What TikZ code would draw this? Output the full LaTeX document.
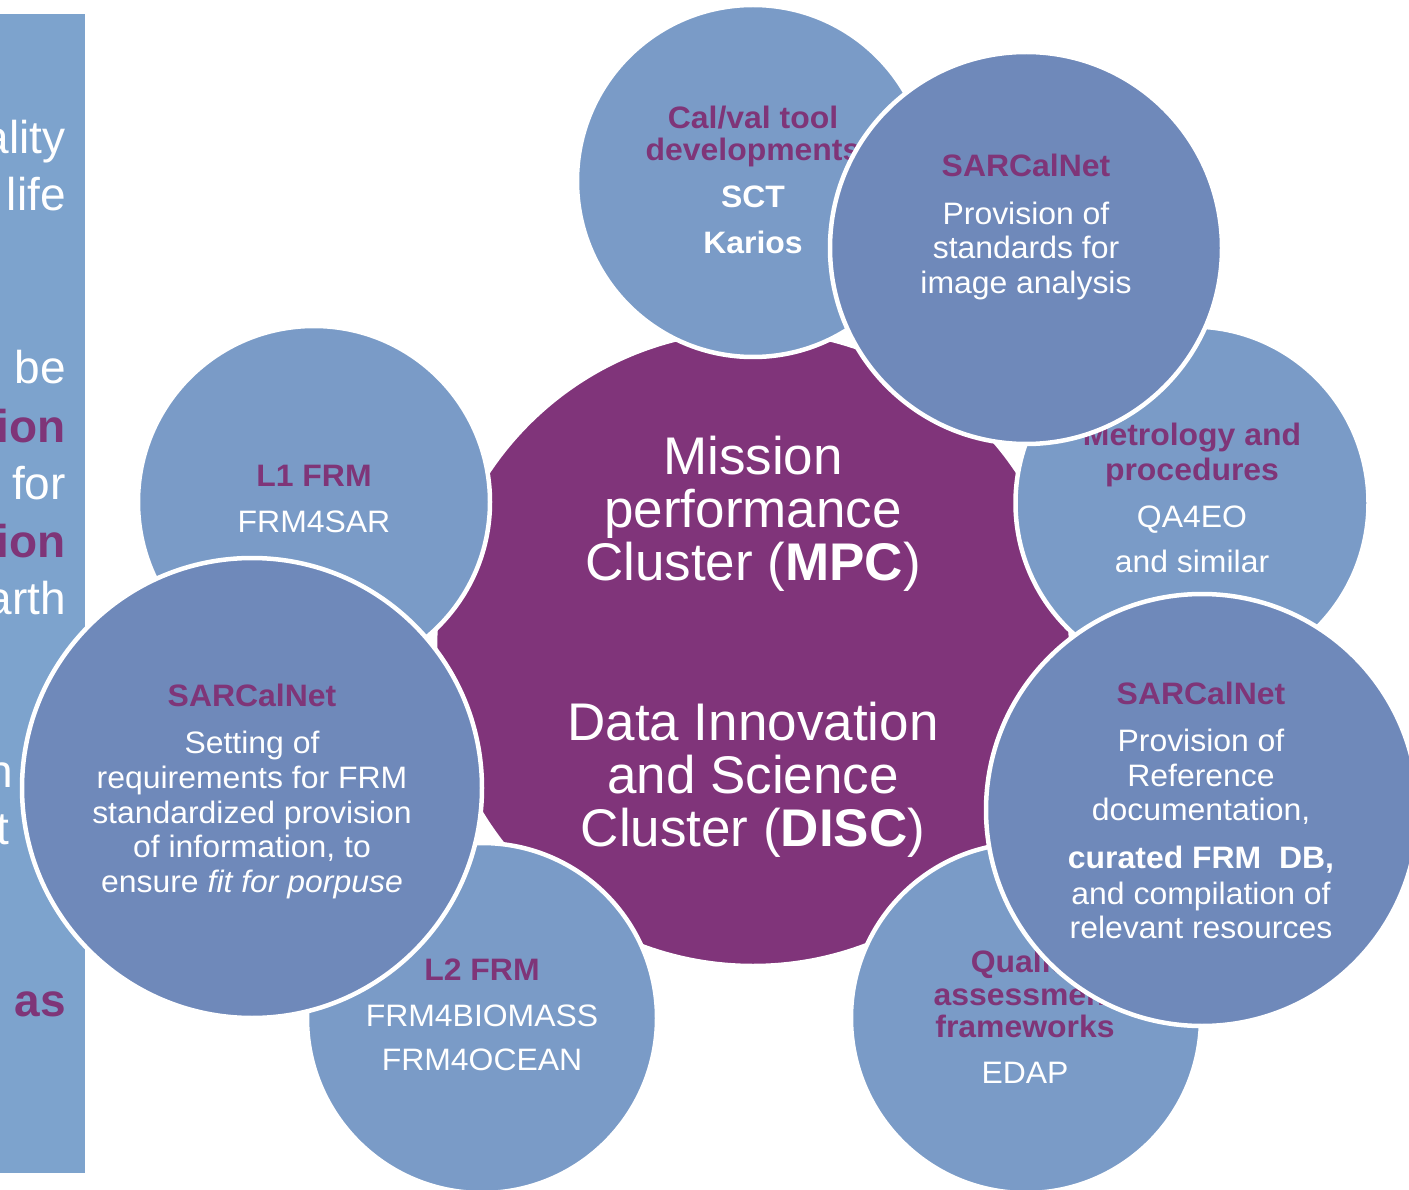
\documentclass[tikz,border=0pt]{standalone}
\usepackage{fontspec}
\setmainfont{Liberation Sans}
\newfontfamily\bubblefont{Liberation Sans}[FakeStretch=1.03]
\definecolor{barblue}{HTML}{7DA3CD}
\definecolor{lightblue}{HTML}{7A9BC7}
\definecolor{darkblue}{HTML}{6F89BA}
\definecolor{mpcpurple}{HTML}{80347A}
\definecolor{titlepurple}{HTML}{7F3578}
\newcommand{\bubblehead}[1]{\textcolor{titlepurple}{\bfseries #1}}
\begin{document}
\begin{tikzpicture}[x=1pt,y=-1pt,
  bubble/.style={circle, draw=white, line width=4.5pt, inner sep=0pt},
  lightbubble/.style={bubble, fill=lightblue},
  darkbubble/.style={bubble, fill=darkblue},
  bubbletext/.style={align=center, text=white, inner sep=0pt, anchor=north,
                     font=\bubblefont\fontsize{31}{34}\selectfont},
  bartext/.style={anchor=base east, inner sep=0pt, text=white,
                  font=\fontsize{46}{46}\selectfont},
  barhead/.style={bartext, text=titlepurple, font=\fontsize{46}{46}\selectfont\bfseries}
]
\useasboundingbox (0,0) rectangle (1409,1190);
\clip (0,0) rectangle (1409,1190);

% side panel with its cut-off text
\fill[barblue] (0,14) rectangle (85,1173);
\node[bartext] (bar1) at (66,154) {ality};
\node[bartext] (bar2) at (66,211) {life};
\node[bartext] (bar3) at (66,384) {be};
\node[barhead] (bar4) at (66,442) {ion};
\node[bartext] (bar5) at (66,499) {for};
\node[barhead] (bar6) at (66,557) {ion};
\node[bartext] (bar7) at (66,614) {arth};
\node[bartext] (bar8) at (13,787) {h};
\node[bartext] (bar9) at (9,844) {t};
\node[barhead] (bar10) at (66,1016) {as};

% central cluster
\node[bubble, fill=mpcpurple, minimum size=636pt] (core) at (753,648) {};
\node[bubbletext, font=\fontsize{53}{53}\selectfont] (coretxt) at (753,436)
  {Mission\\performance\\Cluster (\textbf{MPC})\\[107pt]Data Innovation\\and Science\\Cluster (\textbf{DISC})};

% surrounding activity bubbles
\node[lightbubble, minimum size=352pt] (calval) at (753,181) {};
\node[bubbletext] (calvaltxt) at (753,106)
  {\bubblehead{Cal/val tool}\\[-2pt]\bubblehead{developments}\\[13pt]\textbf{SCT}\\[12pt]\textbf{Karios}};

\node[lightbubble, minimum size=352pt] (lone) at (314,502) {};
\node[bubbletext] (lonetxt) at (314,465)
  {\bubblehead{L1 FRM}\\[12pt]FRM4SAR};

\node[lightbubble, minimum size=353pt] (metro) at (1192,503) {};
\node[bubbletext] (metrotxt) at (1192,423)
  {\bubblehead{Metrology and}\\[1pt]\bubblehead{procedures}\\[13pt]QA4EO\\[11pt]and similar};

\node[lightbubble, minimum size=350pt] (ltwo) at (482,1018) {};
\node[bubbletext] (ltwotxt) at (482,959)
  {\bubblehead{L2 FRM}\\[12pt]FRM4BIOMASS\\[10pt]FRM4OCEAN};

\node[lightbubble, minimum size=350pt] (quality) at (1026,1018) {};
\node[bubbletext] (qualitytxt) at (1025,950)
  {\bubblehead{Quality}\\[-1pt]\bubblehead{assessment}\\[-2pt]\bubblehead{frameworks}\\[12pt]EDAP};

% SARCalNet contributions
\node[darkbubble, minimum size=392pt] (sarimg) at (1026,248) {};
\node[bubbletext] (sarimgtxt) at (1026,154)
  {\bubblehead{SARCalNet}\\[14pt]Provision of\\standards for\\[1pt]image analysis};

\node[darkbubble, minimum size=432pt] (sardoc) at (1202,810) {};
\node[bubbletext] (sardoctxt) at (1201,682)
  {\bubblehead{SARCalNet}\\[13pt]Provision of\\[1pt]Reference\\documentation,\\[14pt]\textbf{curated FRM~~DB,}\\[2pt]and compilation of\\relevant resources};

\node[darkbubble, minimum size=460pt] (sarreq) at (252,788) {};
\node[bubbletext] (sarreqtxt) at (252,684)
  {\bubblehead{SARCalNet}\\[13pt]Setting of\\[1pt]requirements for FRM\\[1pt]standardized provision\\of information, to\\[1pt]ensure \textit{fit for porpuse}};
\end{tikzpicture}
\end{document}
